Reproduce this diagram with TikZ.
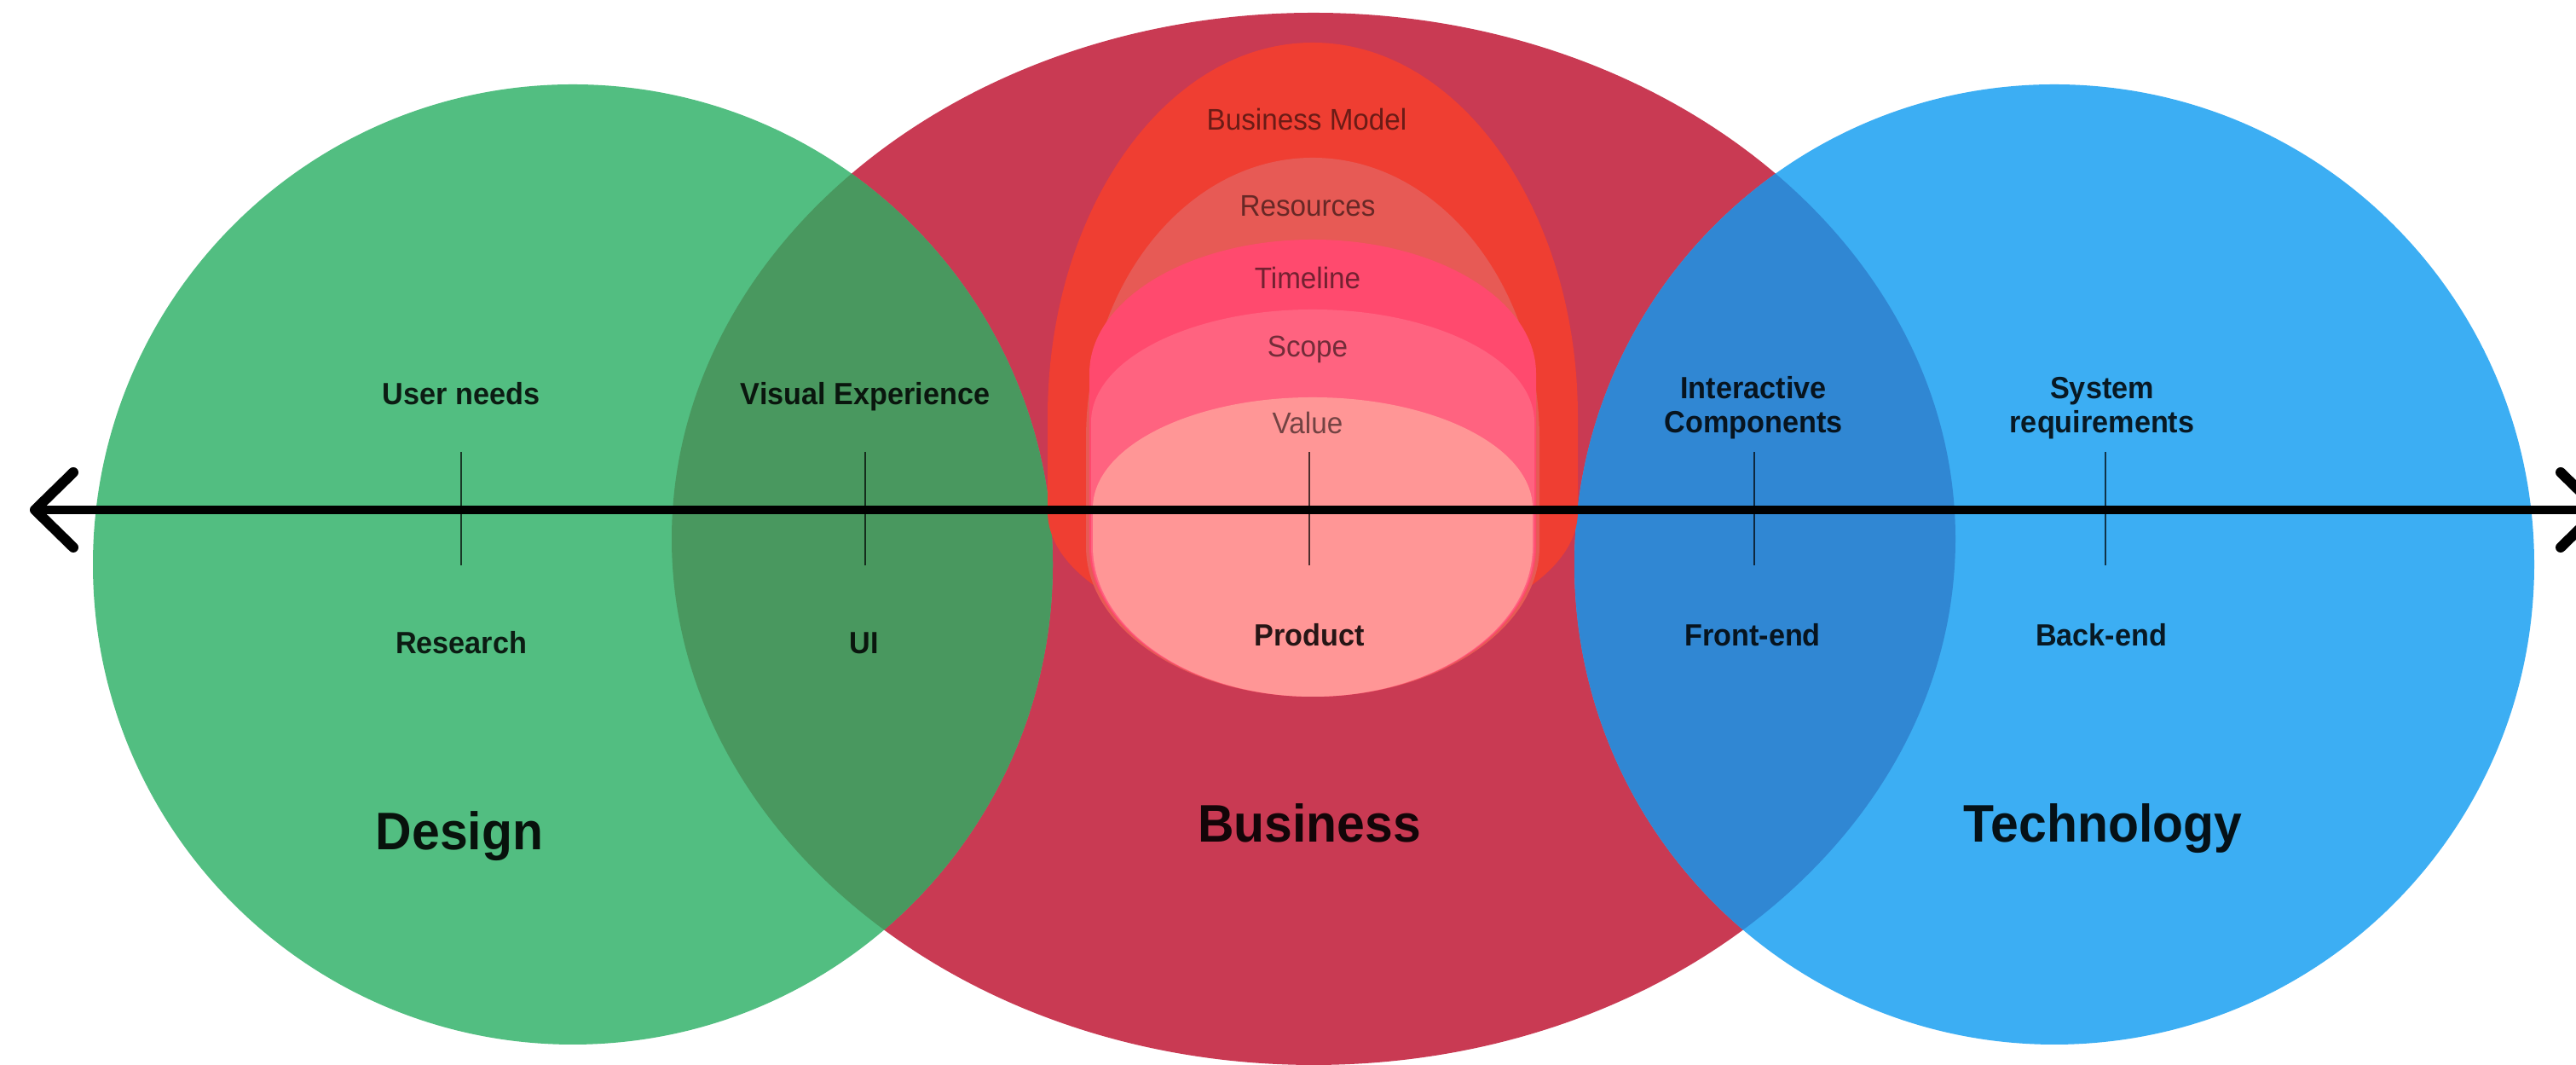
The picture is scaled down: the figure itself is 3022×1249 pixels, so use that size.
\documentclass[tikz,border=0pt]{standalone}
\usepackage{fontspec}
\setmainfont[FakeStretch=0.95]{Liberation Sans}
\definecolor{cgreen}{RGB}{82,190,129}
\definecolor{cdgreen}{RGB}{73,152,95}
\definecolor{cred}{RGB}{201,58,83}
\definecolor{cblue}{RGB}{60,174,243}
\definecolor{cdblue}{RGB}{48,135,211}
\definecolor{corange}{RGB}{239,62,50}
\definecolor{csalmon}{RGB}{231,90,85}
\definecolor{ctime}{RGB}{255,74,110}
\definecolor{cscope}{RGB}{255,99,128}
\definecolor{cprod}{RGB}{255,150,150}
\newcommand\domeshape[6]{%
  \fill[#1] ({1540-#2},#3) arc[start angle=180,end angle=0,x radius=#2,y radius=#4]
    -- ({1540+#2},#5) arc[start angle=0,end angle=-180,x radius=#2,y radius=#6] -- cycle;}
\tikzset{
  lbl/.style={font=\fontsize{9}{10}\selectfont\bfseries, text=black, text opacity=0.85, inner sep=0pt, anchor=base},
  big/.style={font=\fontsize{15.5}{17}\selectfont\bfseries, text=black, text opacity=0.9, inner sep=0pt, anchor=base},
  layer/.style={font=\fontsize{8.75}{10}\selectfont, text=black, text opacity=0.55, inner sep=0pt, anchor=base},
  tickline/.style={draw=black, draw opacity=0.7, line width=0.6pt},
  axisline/.style={draw=black, line width=2.5pt},
  chev/.style={draw=black, line width=3pt, line cap=round, line join=round},
}
\begin{document}
\begin{tikzpicture}[x=0.25pt,y=0.25pt]
\useasboundingbox (0,0) rectangle (3022,1249);
\fill[white] (0,0) rectangle (3022,1249);
% main sets
\fill[cred] (1541,617) ellipse[x radius=753, y radius=617];
\fill[cgreen] (672,587) circle[radius=563];
\fill[cblue] (2410,587) circle[radius=563];
\begin{scope}
  \clip (672,587) circle[radius=563];
  \fill[cdgreen] (1541,617) ellipse[x radius=753, y radius=617];
\end{scope}
\begin{scope}
  \clip (2410,587) circle[radius=563];
  \fill[cdblue] (1541,617) ellipse[x radius=753, y radius=617];
\end{scope}
% nested business layers
\domeshape{corange}{311}{760}{439}{649}{153}
\domeshape{csalmon}{266}{734}{330}{608}{176}
\domeshape{ctime}{262}{811}{157}{608}{176}
\domeshape{cscope}{260}{754}{132}{608}{176}
\domeshape{cprod}{258}{653}{130}{608}{176}
% layer labels
\node[layer] (bm) at (1533,1096) {Business Model};
\node[layer] (res) at (1534,995) {Resources};
\node[layer] (tim) at (1534,910) {Timeline};
\node[layer] (sco) at (1534,830) {Scope};
\node[layer] (val) at (1534,740) {Value};
% axis
\coordinate (axL) at (41,651);
\coordinate (axR) at (3049,651);
\draw[axisline] (axL) -- (axR);
\draw[chev] ([shift={(45,44)}]axL) -- (axL) -- ([shift={(45,-44)}]axL);
\draw[chev] ([shift={(-45,44)}]axR) -- (axR) -- ([shift={(-45,-44)}]axR);
% ticks
\foreach \n/\x in {t1/541,t2/1015,t3/1536,t4/2058,t5/2470}{
  \coordinate (\n a) at (\x,719);
  \coordinate (\n b) at (\x,586);
  \draw[tickline] (\n a) -- (\n b);
}
% labels
\node[lbl] (un) at (541,774) {User needs};
\node[lbl] (ve) at (1015,774) {Visual Experience};
\node[lbl] (ic1) at (2057,781) {Interactive};
\node[lbl] (ic2) at (2057,741) {Components};
\node[lbl] (sr1) at (2466,781) {System};
\node[lbl] (sr2) at (2466,741) {requirements};
\node[lbl] (rs) at (541,482) {Research};
\node[lbl] (ui) at (1014,482) {UI};
\node[lbl] (pr) at (1536,491) {Product};
\node[lbl] (fe) at (2056,491) {Front-end};
\node[lbl] (be) at (2465,491) {Back-end};
\node[big] (des) at (539,252) {Design};
\node[big] (bus) at (1536,261) {Business};
\node[big] (tec) at (2467,261) {Technology};
\end{tikzpicture}
\end{document}
